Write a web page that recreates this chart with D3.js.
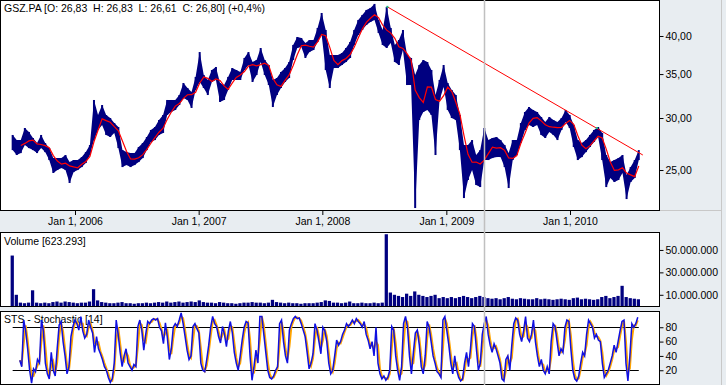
<!DOCTYPE html>
<html>
<head>
<meta charset="utf-8">
<title>GSZ.PA</title>
<script src="https://d3js.org/d3.v7.min.js"></script>
<style>
    body { margin: 0; background: #e8edf1; }
    svg { display: block; font-family: "Liberation Sans", Arial, sans-serif; font-size: 10.5px; }
    .title { white-space: pre; }
</style>
</head>
<body>
<svg id="chart" width="726" height="385"></svg>
<script>
// price samples, one every 12 days between these two dates
var priceStart = "2005-07-01", priceEnd = "2010-07-23";
var highs = [
    28.27, 27.77, 27.77, 28.97, 28.57, 27.97, 27.48, 28.27, 27.48, 27.00,
    26.07, 26.07, 26.07, 26.35, 25.71, 25.89, 25.89, 26.16, 26.62, 27.29,
    31.96, 30.32, 31.40, 30.32, 30.00, 29.48, 29.07, 26.81, 26.62, 26.53,
    26.53, 27.10, 27.48, 28.07, 28.77, 29.07, 29.79, 30.32, 31.96, 31.96,
    31.96, 32.52, 33.92, 33.33, 32.87, 34.65, 37.81, 34.89, 34.28, 35.50,
    35.88, 33.92, 33.68, 34.65, 35.75, 35.50, 35.25, 37.03, 37.81, 36.51,
    36.77, 38.35, 36.77, 36.13, 34.28, 34.52, 35.25, 35.75, 36.51, 38.76,
    39.86, 39.72, 39.03, 39.44, 39.44, 41.14, 43.36, 40.85, 37.42, 37.42,
    37.42, 37.68, 38.35, 39.17, 40.85, 42.31, 43.06, 43.82, 44.13, 44.76,
    42.31, 40.85, 44.29, 41.14, 38.76, 39.44, 40.85, 37.42, 37.03, 34.89,
    36.13, 36.77, 36.51, 35.50, 32.52, 34.28, 36.13, 33.92, 33.10, 32.52,
    30.32, 27.29, 27.29, 27.77, 26.35, 26.81, 28.97, 27.77, 27.97, 28.07,
    27.77, 27.29, 26.53, 27.77, 27.77, 29.48, 30.64, 31.18, 30.86, 30.64,
    30.11, 29.58, 30.11, 29.79, 29.58, 30.00, 30.86, 30.32, 29.27, 27.77,
    27.48, 27.77, 28.27, 28.77, 29.07, 28.47, 26.35, 25.71, 25.89, 26.07,
    26.35, 24.56, 25.26, 25.89, 26.81
];
var lows = [
    26.81, 26.35, 26.53, 27.29, 27.00, 26.81, 26.53, 27.00, 26.62, 25.89,
    24.74, 25.00, 25.17, 25.00, 23.89, 24.82, 25.00, 25.26, 25.62, 26.35,
    27.77, 28.77, 29.27, 28.27, 28.07, 28.47, 27.00, 25.26, 25.44, 25.26,
    25.44, 25.71, 26.07, 26.81, 27.58, 27.77, 28.27, 28.47, 30.32, 30.64,
    30.86, 31.40, 32.18, 31.96, 31.08, 33.10, 34.04, 33.33, 32.52, 34.04,
    34.28, 31.74, 31.96, 33.10, 34.28, 34.28, 34.28, 35.50, 36.13, 34.04,
    34.89, 36.51, 34.89, 33.68, 31.18, 32.52, 33.33, 34.04, 34.52, 36.77,
    38.35, 38.49, 37.03, 37.81, 38.08, 39.17, 40.14, 35.50, 33.33, 35.75,
    35.75, 36.13, 36.51, 37.03, 38.76, 40.14, 40.85, 41.57, 42.01, 42.31,
    40.43, 38.76, 38.35, 39.03, 36.51, 36.13, 38.08, 33.68, 33.68, 21.88,
    29.79, 30.64, 30.86, 30.32, 26.35, 31.96, 33.45, 30.86, 30.00, 29.79,
    26.81, 22.66, 24.14, 25.00, 23.72, 23.55, 25.89, 25.89, 26.07, 26.16,
    26.16, 25.26, 23.47, 25.89, 26.35, 27.48, 28.77, 29.27, 29.07, 29.27,
    28.27, 27.97, 28.57, 28.27, 27.77, 28.77, 29.58, 28.97, 27.10, 25.89,
    26.16, 26.62, 27.10, 27.58, 28.07, 25.89, 23.55, 24.31, 23.97, 24.14,
    24.74, 22.58, 23.97, 24.31, 25.89
];
// volume in millions, same samples
var volumes = [
    45, 10, 3, 2.5, 3, 14, 3, 2.5, 3, 2.5,
    3.5, 4, 3, 4, 3.5, 3, 2.5, 3, 3, 4,
    15, 5, 3.5, 3, 2.5, 2.5, 3, 3.5, 2.5, 2.5,
    2, 2.5, 2.5, 3, 2.5, 3, 3.5, 3, 4, 3,
    3.5, 4, 3, 3.5, 4, 3.5, 5, 3.5, 3, 3,
    2.5, 3.5, 3, 2.5, 2.5, 2, 2.5, 3, 3, 3.5,
    3, 3, 2.5, 3, 5.5, 3.5, 3, 2.5, 3, 2.5,
    2.5, 2, 2.5, 2.5, 2.5, 3, 3.5, 5, 4.5, 3,
    3, 2.5, 3, 4, 2.5, 2.5, 3, 2.5, 2.5, 3,
    2.5, 3, 64, 12, 10, 9, 8, 11, 9, 13,
    10, 9, 8, 9, 10, 7, 8, 7, 8, 7,
    8, 9, 8, 7, 8, 9, 8, 7, 6.5, 7,
    6, 7, 8, 6.5, 6, 7, 6.5, 6, 6, 7,
    6, 6.5, 6, 5.5, 6, 6.5, 6, 5.5, 7, 7.5,
    6, 6.5, 6, 5.5, 6, 8, 9, 7, 8, 9,
    18, 8, 7, 6.5, 6
];
// stochastic %K, evenly spaced between these two dates
var stochStart = "2005-07-22", stochEnd = "2010-07-20";
var stochK = [
    34, 25, 90, 75, 50, 20, 2, 22, 18, 35, 30, 90, 75, 30, 15, 8, 45, 20, 12, 50,
    83, 88, 60, 40, 15, 25, 67, 81, 90, 85, 76, 95, 75, 65, 70, 90, 80, 72, 45, 67,
    50, 43, 35, 25, 20, 10, 3, 8, 30, 90, 70, 45, 25, 40, 50, 30, 25, 20, 28, 25,
    81, 90, 76, 48, 70, 88, 85, 90, 92, 90, 92, 80, 75, 57, 86, 65, 35, 50, 80, 85,
    81, 90, 100, 85, 67, 48, 35, 40, 81, 85, 78, 72, 30, 20, 18, 35, 55, 80, 95, 85,
    81, 67, 58, 81, 70, 53, 75, 88, 72, 45, 30, 20, 40, 62, 80, 88, 86, 40, 6, 25,
    48, 30, 95, 95, 70, 45, 20, 10, 8, 12, 20, 25, 85, 90, 60, 40, 30, 76, 85, 92,
    95, 92, 93, 85, 76, 67, 45, 22, 30, 43, 85, 76, 60, 43, 80, 75, 60, 30, 15, 20,
    40, 62, 55, 60, 70, 76, 85, 81, 85, 90, 85, 92, 88, 85, 80, 88, 70, 62, 50, 60,
    40, 80, 30, 15, 8, 12, 6, 10, 20, 81, 76, 40, 20, 6, 25, 85, 95, 80, 40, 15,
    45, 72, 76, 55, 25, 15, 40, 88, 80, 60, 40, 30, 18, 15, 10, 90, 95, 75, 55, 30,
    15, 40, 20, 10, 5, 8, 30, 45, 25, 50, 85, 81, 50, 20, 30, 70, 85, 95, 70, 55,
    45, 57, 50, 40, 30, 8, 5, 35, 40, 20, 55, 85, 93, 90, 70, 60, 75, 95, 65, 60,
    70, 90, 60, 40, 25, 35, 20, 15, 25, 15, 60, 85, 81, 60, 40, 50, 45, 80, 90, 88,
    50, 20, 8, 5, 12, 30, 45, 40, 70, 90, 85, 80, 65, 70, 62, 60, 30, 10, 15, 20,
    30, 40, 55, 45, 60, 75, 88, 90, 30, 5, 40, 85, 80, 85, 94
];
var trendDates = ["2008-07-11", "2010-08-04"];
var trendValues = [44.3, 26.35];
var touchDates = ["2008-07-11", "2010-03-21"];
var touchValues = [44.3, 28.97];
var yearTicks = ["2006-01-01", "2007-01-01", "2008-01-01", "2009-01-01", "2010-01-01"];
var priceTicks = [25, 30, 35, 40];
var volumeTicks = [10, 30, 50];
var stochTicks = [20, 40, 60, 80];
var stochLevels = [20, 80];
var cursorDate = "2009-04-22";

var parse = d3.timeParse("%Y-%m-%d");
var svg = d3.select("#chart");

// panel boxes
var panelW = 659;
var pricePanel = { top: 0, bottom: 210 };
var volPanel = { top: 232, bottom: 306 };
var stochPanel = { top: 311, bottom: 384 };

var x = d3.scaleTime()
    .domain([parse("2006-01-01"), parse("2010-01-01")])
    .range([75, 570]);
var yP = d3.scaleLog().domain([21.73, 45.38]).range([210, 0]);
var yV = d3.scaleLinear().domain([0, 66]).range([306, 232]);
var yS = d3.scaleLinear().domain([0, 100]).range([384.6, 312.9]);

function spread(start, end, n) {
    var t = d3.scaleLinear().domain([0, n - 1]).range([parse(start), parse(end)]);
    return d3.range(n).map(function(i) { return new Date(t(i)); });
}
var priceDates = spread(priceStart, priceEnd, highs.length);
var stochDates = spread(stochStart, stochEnd, stochK.length);
var barW = x(priceDates[1]) - x(priceDates[0]);

[pricePanel, volPanel, stochPanel].forEach(function(p, i) {
    svg.append("rect")
        .attr("x", 0.5).attr("y", p.top + 0.5)
        .attr("width", panelW).attr("height", p.bottom - p.top)
        .attr("fill", "#fff").attr("stroke", "#000");
    svg.append("clipPath").attr("id", "clip" + i)
        .append("rect").attr("x", 1).attr("y", p.top + 1)
        .attr("width", panelW - 1).attr("height", p.bottom - p.top - 1);
});

// right-side gray frame lines
svg.append("line").attr("x1", 721.5).attr("x2", 721.5).attr("y1", 0).attr("y2", 385)
    .attr("stroke", "#c8c8c8");
svg.append("line").attr("x1", 660).attr("x2", 721).attr("y1", 210.5).attr("y2", 210.5)
    .attr("stroke", "#c8c8c8");

// titles
svg.append("text").attr("class", "title").attr("x", 4).attr("y", 12)
    .text("GSZ.PA [O: 26,83  H: 26,83  L: 26,61  C: 26,80] (+0,4%)");
svg.append("text").attr("class", "title").attr("x", 4).attr("y", 245)
    .text("Volume [623.293]");
svg.append("text").attr("class", "title").attr("x", 4).attr("y", 323)
    .text("STS - Stochastic [14]");

// price range: band between highs and lows plus a thin bar per sample
var gP = svg.append("g").attr("clip-path", "url(#clip0)");
gP.append("path")
    .datum(priceDates)
    .attr("fill", "#000080")
    .attr("d", d3.area()
        .x(function(d) { return x(d); })
        .y0(function(d, i) { return yP(lows[i]); })
        .y1(function(d, i) { return yP(highs[i]); }));
gP.selectAll(".bar")
    .data(priceDates)
    .enter().append("rect")
    .attr("x", function(d) { return x(d) - 1; })
    .attr("width", 2)
    .attr("y", function(d, i) { return yP(highs[i]); })
    .attr("height", function(d, i) { return Math.max(1, yP(lows[i]) - yP(highs[i])); })
    .attr("fill", "#000080");

// moving average of the bar midpoints
var ma = [];
priceDates.forEach(function(d, i) {
    if (i < 2) return;
    var s = 0;
    for (var k = i - 2; k <= i; k++) s += (highs[k] + lows[k]) / 2;
    ma.push({ date: d, value: s / 3 });
});
gP.append("path")
    .datum(ma)
    .attr("fill", "none")
    .attr("stroke", "#ff0000")
    .attr("stroke-width", 1.2)
    .attr("d", d3.line().x(function(d) { return x(d.date); }).y(function(d) { return yP(d.value); }));

// trend line
gP.append("line")
    .attr("x1", x(parse(trendDates[0]))).attr("y1", yP(trendValues[0]))
    .attr("x2", x(parse(trendDates[1]))).attr("y2", yP(trendValues[1]))
    .attr("stroke", "#ff0000").attr("stroke-width", 1);
gP.selectAll(".touch")
    .data(touchDates)
    .enter().append("rect")
    .attr("x", function(d) { return x(parse(d)) - 1; })
    .attr("y", function(d, i) { return yP(touchValues[i]) - 1; })
    .attr("width", 2).attr("height", 2)
    .attr("fill", "#20c080");

// volume bars
var gV = svg.append("g").attr("clip-path", "url(#clip1)");
gV.selectAll(".vol")
    .data(priceDates)
    .enter().append("rect")
    .attr("x", function(d) { return x(d) - barW / 2; })
    .attr("width", barW * 0.8)
    .attr("y", function(d, i) { return yV(volumes[i]); })
    .attr("height", function(d, i) { return yV(0) - yV(volumes[i]); })
    .attr("fill", "#000080");

// stochastic
var gS = svg.append("g").attr("clip-path", "url(#clip2)");
gS.selectAll(".level")
    .data(stochLevels)
    .enter().append("line")
    .attr("x1", x(priceDates[0])).attr("x2", x(priceDates[priceDates.length - 1]))
    .attr("y1", function(d) { return Math.round(yS(d)) + 0.5; })
    .attr("y2", function(d) { return Math.round(yS(d)) + 0.5; })
    .attr("stroke", "#000").attr("stroke-width", 1.2);

var stochD = stochK.map(function(v, i) {
    return i === 0 ? v : (stochK[i - 1] + v) / 2;
});
var sLine = d3.line()
    .x(function(d, i) { return x(stochDates[i]); })
    .y(function(d) { return yS(d); });
gS.append("path").datum(stochD)
    .attr("fill", "none").attr("stroke", "#ffa500").attr("stroke-width", 2)
    .attr("d", sLine);
gS.append("path").datum(stochK)
    .attr("fill", "none").attr("stroke", "#1010e0").attr("stroke-width", 1.5)
    .attr("d", sLine);

// cursor line
svg.append("line")
    .attr("x1", Math.round(x(parse(cursorDate))) + 0.5)
    .attr("x2", Math.round(x(parse(cursorDate))) + 0.5)
    .attr("y1", 0).attr("y2", 385)
    .attr("stroke", "#c0c0c0").attr("stroke-width", 1.5);

// axes
function styleAxis(g) {
    g.select(".domain").remove();
    g.selectAll("text").attr("fill", "#000").style("font-size", "10.5px")
        .style("font-family", "'Liberation Sans', Arial, sans-serif");
    g.selectAll("line").attr("stroke", "#000");
}
svg.append("g")
    .attr("transform", "translate(0,211)")
    .call(d3.axisBottom(x)
        .tickValues(yearTicks.map(parse))
        .tickSize(4).tickPadding(3)
        .tickFormat(d3.timeFormat("%b %-d, %Y")))
    .call(styleAxis);
svg.append("g")
    .attr("transform", "translate(659.5,0)")
    .call(d3.axisRight(yP)
        .tickValues(priceTicks).tickSize(4).tickPadding(2)
        .tickFormat(function(d) { return d3.format(".2f")(d).replace(".", ","); }))
    .call(styleAxis);
svg.append("g")
    .attr("transform", "translate(659.5,0)")
    .call(d3.axisRight(yV)
        .tickValues(volumeTicks).tickSize(4).tickPadding(2)
        .tickFormat(function(d) { return d3.format(",")(d * 1e6).replace(/,/g, "."); }))
    .call(styleAxis);
svg.append("g")
    .attr("transform", "translate(659.5,0)")
    .call(d3.axisRight(yS)
        .tickValues(stochTicks).tickSize(4).tickPadding(2))
    .call(styleAxis);
</script>
</body>
</html>
